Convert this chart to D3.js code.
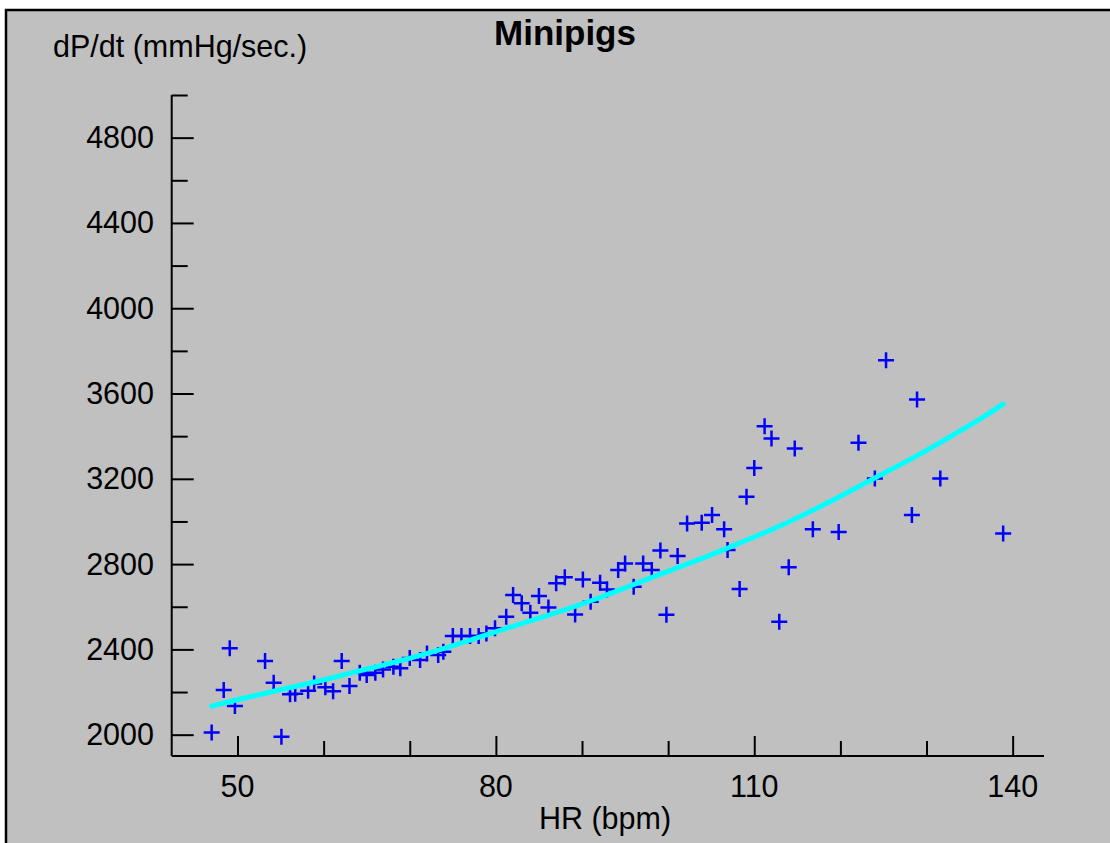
<!DOCTYPE html>
<html><head><meta charset="utf-8">
<script src="https://cdn.jsdelivr.net/npm/d3@7"></script>
<style>body{margin:0;background:#fff;}svg{display:block;}text{font-family:"Liberation Sans",Arial,sans-serif;fill:#000;}</style>
</head><body>
<svg id="c" width="1110" height="843"></svg>
<script>
// Data
const hrValues = [47.0,48.4,49.1,49.7,53.2,54.2,55.1,56.1,56.7,58.2,58.9,60.2,61.1,62.1,63.0,64.2,65.0,66.0,66.9,68.1,68.9,70.0,71.2,72.0,73.3,73.9,75.0,76.0,77.0,78.0,78.9,79.9,81.2,82.0,83.0,84.0,85.0,86.1,87.0,88.0,89.2,90.1,91.0,92.1,92.9,94.2,95.0,96.0,97.1,98.1,99.1,99.8,101.1,102.2,103.9,105.1,106.5,106.9,108.3,109.1,110.0,111.2,112.0,112.9,114.0,114.7,116.8,119.8,122.1,124.0,125.3,128.3,128.9,131.6,138.9];
const dpdtValues = [2010,2210,2405,2135,2345,2244,1990,2190,2192,2206,2240,2222,2204,2345,2228,2291,2280,2291,2306,2319,2311,2360,2350,2381,2374,2389,2463,2463,2463,2463,2475,2499,2553,2655,2616,2572,2650,2597,2710,2738,2564,2728,2623,2712,2681,2772,2803,2694,2803,2772,2864,2563,2838,2990,2994,3030,2963,2866,2683,3116,3251,3447,3389,2530,2785,3342,2963,2951,3369,3202,3756,3030,3572,3202,2944];
const fitHR = [47.0,51.45,55.3,59.2,63.1,66.9,70.8,74.7,80.5,86.3,92.1,97.9,103.7,106.8,112.2,115.7,119.6,124.2,128.9,132.7,136.6,138.9];
const fitDPDT = [2134,2178,2214,2248,2289,2326,2366,2412,2491,2561,2641,2735,2822,2874,2963,3030,3109,3209,3306,3397,3489,3550];
const xMajorTicks = [50,80,110,140];
const xMinorTicks = [60,70,90,100,120,130];
const yMajorTicks = [2000,2400,2800,3200,3600,4000,4400,4800];
const yMinorTicks = [2200,2600,3000,3400,3800,4200,4600,5000];
const titleText = "Minipigs";
const xLabel = "HR (bpm)";
const yLabel = "dP/dt (mmHg/sec.)";

const svg = d3.select("#c");
svg.append("rect").attr("x",6).attr("y",10).attr("width",1120).attr("height",850)
  .attr("fill","#c0c0c0").attr("stroke","#000").attr("stroke-width",2.5);

const x = d3.scaleLinear().domain([42.36,143.64]).range([171.7,1044]);
const y = d3.scaleLinear().domain([1900,5000]).range([756,95]);

const g = svg.append("g");
g.append("line").attr("x1",x.range()[0]).attr("x2",x.range()[0]).attr("y1",y(5000)).attr("y2",y(1900)).attr("stroke","#000").attr("stroke-width",2);
g.append("line").attr("x1",x.range()[0]).attr("x2",x.range()[1]).attr("y1",y(1900)).attr("y2",y(1900)).attr("stroke","#000").attr("stroke-width",2);

const yAxisMajor = d3.axisRight(y).tickValues(yMajorTicks).tickSize(22).tickFormat("");
const yAxisMinor = d3.axisRight(y).tickValues(yMinorTicks).tickSize(16).tickFormat("");
[yAxisMajor,yAxisMinor].forEach(a=>{
  const ga = g.append("g").attr("transform",`translate(${x.range()[0]},0)`).call(a);
  ga.select(".domain").remove();
  ga.selectAll("line").attr("stroke","#000").attr("stroke-width",2);
});
g.selectAll(".ylab").data(yMajorTicks).join("text").attr("class","ylab")
  .attr("x",154).attr("y",d=>y(d)+10.5).attr("text-anchor","end")
  .style("font-size","30.5px").text(d=>d);

const xAxisMajor = d3.axisTop(x).tickValues(xMajorTicks).tickSize(20).tickFormat("");
const xAxisMinor = d3.axisTop(x).tickValues(xMinorTicks).tickSize(15).tickFormat("");
[xAxisMajor,xAxisMinor].forEach(a=>{
  const ga = g.append("g").attr("transform",`translate(0,${y(1900)})`).call(a);
  ga.select(".domain").remove();
  ga.selectAll("line").attr("stroke","#000").attr("stroke-width",2);
});
g.selectAll(".xlab").data(xMajorTicks).join("text").attr("class","xlab")
  .attr("x",d=>x(d)).attr("y",797).attr("text-anchor","middle")
  .style("font-size","30.5px").text(d=>d);

svg.append("text").attr("x",565).attr("y",45).attr("text-anchor","middle")
  .style("font-size","35px").style("font-weight","bold").text(titleText);
svg.append("text").attr("x",53).attr("y",57).style("font-size","30.5px").text(yLabel);
svg.append("text").attr("x",605).attr("y",829).attr("text-anchor","middle").style("font-size","30.5px").text(xLabel);

const pts = hrValues.map((h,i)=>({h, v: dpdtValues[i]}));
g.selectAll(".pt").data(pts).join("path").attr("class","pt")
  .attr("transform",d=>`translate(${x(d.h)},${y(d.v)})`)
  .attr("d","M-8,0H8M0,-8V8").attr("stroke","#0000ff").attr("stroke-width",2.5).attr("fill","none");

const fit = fitHR.map((h,i)=>[h, fitDPDT[i]]);
g.append("path").datum(fit)
  .attr("d", d3.line().x(d=>x(d[0])).y(d=>y(d[1])).curve(d3.curveBasis))
  .attr("fill","none").attr("stroke","#00ffff").attr("stroke-width",5).attr("stroke-linecap","round");
</script>
</body></html>
